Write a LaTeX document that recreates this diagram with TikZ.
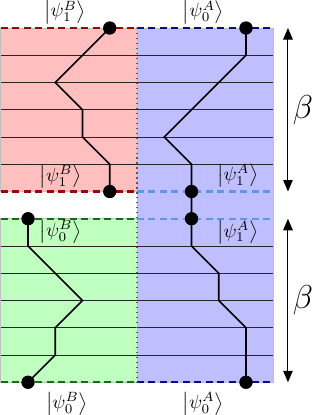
\documentclass[tikz,border=0pt]{standalone}
\usetikzlibrary{arrows.meta}
\definecolor{dred}{RGB}{150,10,10}
\definecolor{dblue}{RGB}{10,10,140}
\definecolor{lblue}{RGB}{95,150,235}
\definecolor{dgreen}{RGB}{20,110,20}
\begin{document}
\begin{tikzpicture}[x=0.5cm,y=0.5cm,
  region/.style={draw=gray!50,line width=0.4pt},
  level/.style={black!85,line width=0.5pt},
  bnd/.style={line width=1.2pt,dash pattern=on 3.6pt off 2.4pt},
  world/.style={black,line width=0.9pt},
  dot/.style={circle,fill=black,inner sep=0pt,minimum size=6.8pt},
  lab/.style={inner sep=0pt},
  span/.style={{Triangle[length=6pt,width=5pt]}-{Triangle[length=6pt,width=5pt]},line width=0.5pt}]
\useasboundingbox (-1.028,1.028) rectangle (10.422,-14.202);
% regions
\fill[red!25] (-1,0) rectangle (4,-6);
\fill[green!25] (-1,-7) rectangle (4,-13);
\fill[blue!25] (4,0) rectangle (9,-13);
\draw[region] (-1,0) rectangle (4,-6);
\draw[region] (-1,-7) rectangle (4,-13);
\draw[region] (4,0) rectangle (9,-13);
% time slices
\foreach \k in {1,...,5,8,9,...,12} \draw[level] (-1,-\k) -- (9,-\k);
% boundaries
\draw[bnd,dred] (-1,0) -- (4,0);
\draw[bnd,dred] (-1,-6) -- (4,-6);
\draw[bnd,dgreen] (-1,-7) -- (4,-7);
\draw[bnd,dgreen] (-1,-13) -- (4,-13);
\draw[bnd,dblue] (4,0) -- (9,0);
\draw[bnd,lblue] (4,-6) -- (9,-6);
\draw[bnd,lblue] (4,-7) -- (9,-7);
\draw[bnd,dblue] (4,-13) -- (9,-13);
% divider
\draw[black!65,dotted,line width=0.6pt] (4,0) -- (4,-13);
% dots
\node[dot] (bt) at (3,0) {};
\node[dot] (bb) at (3,-6) {};
\node[dot] (gt) at (0,-7) {};
\node[dot] (gb) at (0,-13) {};
\node[dot] (at) at (8,0) {};
\node[dot] (am1) at (6,-6) {};
\node[dot] (am2) at (6,-7) {};
\node[dot] (ab) at (8,-13) {};
% worldlines
\draw[world] (bt.center) -- (1,-2) -- (2,-3) -- (2,-4) -- (3,-5) -- (bb.center);
\draw[world] (gt.center) -- (0,-8) -- (2,-10) -- (1,-11) -- (1,-12) -- (gb.center);
\draw[world] (at.center) -- (8,-1) -- (5,-4) -- (6,-5) -- (am1.center) -- (am2.center) -- (6,-8) -- (7,-9) -- (7,-10) -- (8,-11) -- (ab.center);
% redraw dots on top
\foreach \n in {bt,bb,gt,gb,at,am1,am2,ab} \fill (\n) circle (3.4pt);
% labels
\node[lab] (l1) at (1.36,0.58) {$\left|\psi_1^B\right\rangle$};
\node[lab] (l2) at (6.44,0.58) {$\left|\psi_0^A\right\rangle$};
\node[lab] (l3) at (1.2,-5.45) {$\left|\psi_1^B\right\rangle$};
\node[lab] (l4) at (7.7,-5.42) {$\left|\psi_1^A\right\rangle$};
\node[lab] (l5) at (1.2,-7.48) {$\left|\psi_0^B\right\rangle$};
\node[lab] (l6) at (7.7,-7.5) {$\left|\psi_1^A\right\rangle$};
\node[lab] (l7) at (1.43,-13.8) {$\left|\psi_0^B\right\rangle$};
\node[lab] (l8) at (6.43,-13.8) {$\left|\psi_0^A\right\rangle$};
% beta arrows
\coordinate (u1) at (9.54,0);
\coordinate (u2) at (9.54,-6);
\coordinate (d1) at (9.54,-7);
\coordinate (d2) at (9.54,-13);
\draw[span] (u1) -- (u2);
\draw[span] (d1) -- (d2);
\node[lab] (be1) at (10.09,-3) {\LARGE$\beta$};
\node[lab] (be2) at (10.09,-10) {\LARGE$\beta$};
\end{tikzpicture}
\end{document}
